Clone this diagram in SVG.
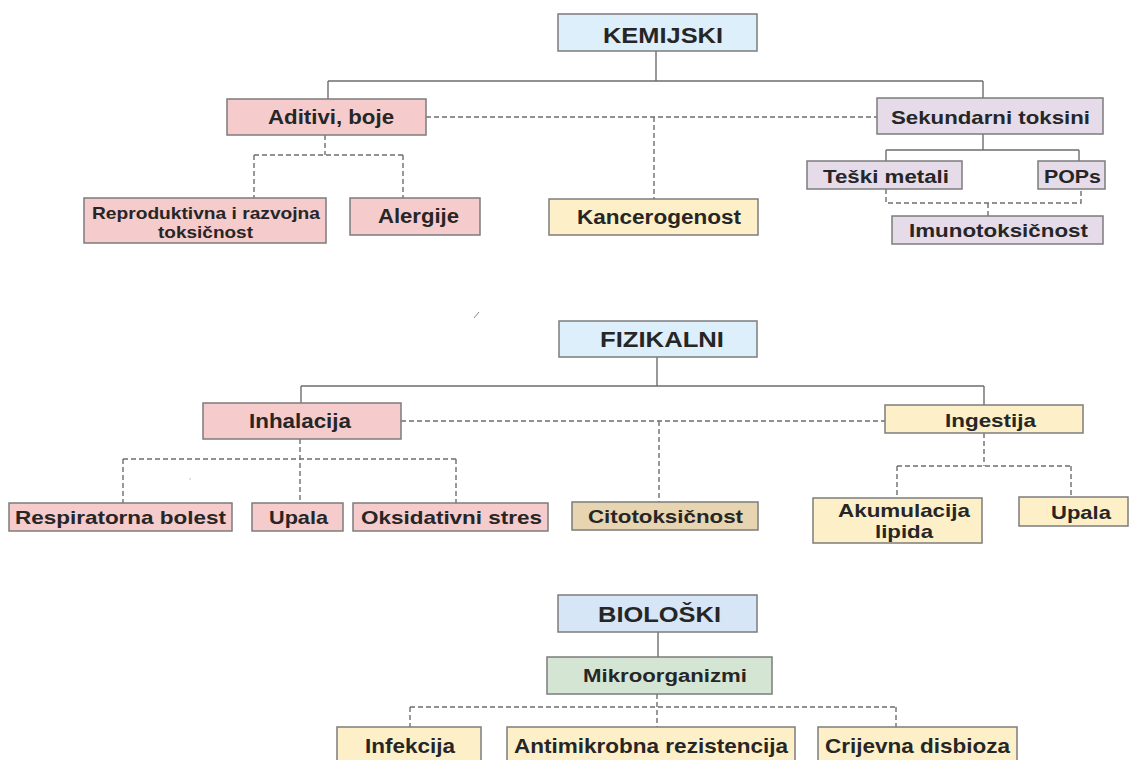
<svg xmlns="http://www.w3.org/2000/svg" width="1132" height="760" viewBox="0 0 1132 760">
<style>
.box{stroke:#7c7c7c;stroke-width:1.5}
.blue{fill:#deeffc}.blue2{fill:#d6e6f6}.pink{fill:#f5cbcc}.lav{fill:#e5dbe9}.yel{fill:#fdf0c9}.tan{fill:#e7d4b0}.grn{fill:#d4e6d3}
text{font-family:"Liberation Sans",Arial,sans-serif;font-weight:bold;fill:#262626;text-anchor:middle}
.solid{fill:none;stroke:#6e6e6e;stroke-width:1.4}
.dash{fill:none;stroke:#6e6e6e;stroke-width:1.4;stroke-dasharray:5 3}
</style>
<rect width="1132" height="760" fill="#ffffff"/>
<g id="connectors">
<path class="solid" d="M656,51 V81 M328,81 H983 M328,81 V99 M983,81 V98"/>
<path class="dash" d="M426,117 H877 M654,117 V199"/>
<path class="dash" d="M325,135 V155 M254,155 H403 M254,155 V198 M403,155 V198"/>
<path class="solid" d="M983,134 V150 M886,150 H1079 M886,150 V161 M1079,150 V161"/>
<path class="dash" d="M886,189 V203 H1081 V189 M988,203 V216"/>
<path class="solid" d="M657,357 V386 M301,386 H984 M301,386 V403 M984,386 V405"/>
<path class="dash" d="M401,421 H885 M659,421 V502"/>
<path class="dash" d="M300,439 V503 M123,459 H456 M123,459 V503 M456,459 V503"/>
<path class="dash" d="M984,433 V466 M897,466 H1071 M897,466 V498 M1071,466 V497"/>
<path class="solid" d="M658,632 V657"/>
<path class="dash" d="M657,694 V727 M410,707 H896 M410,707 V727 M896,707 V727"/>
</g>
<g id="marks">
<line x1="474" y1="318" x2="479" y2="312" stroke="#888" stroke-width="1"/>
<circle cx="190" cy="479" r="0.8" fill="#bbb"/>
</g>
<g id="kemijski"><rect class="box blue" x="558" y="14" width="199" height="37"/><text x="663" y="43" font-size="22" textLength="120" lengthAdjust="spacingAndGlyphs">KEMIJSKI</text></g>
<g id="aditivi"><rect class="box pink" x="227" y="99" width="199" height="36"/><text x="331" y="124" font-size="20" textLength="126" lengthAdjust="spacingAndGlyphs">Aditivi, boje</text></g>
<g id="sekundarni"><rect class="box lav" x="877" y="98" width="226" height="36"/><text x="990.5" y="124" font-size="18.5" textLength="199" lengthAdjust="spacingAndGlyphs">Sekundarni toksini</text></g>
<g id="reproduktivna"><rect class="box pink" x="84" y="198" width="242" height="45"/><text x="206" y="219" font-size="17" textLength="228" lengthAdjust="spacingAndGlyphs">Reproduktivna i razvojna</text><text x="205.5" y="238" font-size="17" textLength="95" lengthAdjust="spacingAndGlyphs">toksičnost</text></g>
<g id="alergije"><rect class="box pink" x="350" y="198" width="130" height="37"/><text x="418.5" y="223" font-size="20" textLength="81" lengthAdjust="spacingAndGlyphs">Alergije</text></g>
<g id="kancerogenost"><rect class="box yel" x="549" y="199" width="209" height="36"/><text x="659" y="224" font-size="19.5" textLength="164" lengthAdjust="spacingAndGlyphs">Kancerogenost</text></g>
<g id="teski"><rect class="box lav" x="807" y="161" width="155" height="28"/><text x="886" y="183" font-size="18" textLength="126" lengthAdjust="spacingAndGlyphs">Teški metali</text></g>
<g id="pops"><rect class="box lav" x="1038" y="161" width="67" height="28"/><text x="1072.5" y="183" font-size="18" textLength="57" lengthAdjust="spacingAndGlyphs">POPs</text></g>
<g id="imunotoksicnost"><rect class="box lav" x="892" y="216" width="211" height="28"/><text x="998.5" y="237" font-size="18.5" textLength="179" lengthAdjust="spacingAndGlyphs">Imunotoksičnost</text></g>
<g id="fizikalni"><rect class="box blue" x="559" y="321" width="198" height="36"/><text x="662" y="347" font-size="22" textLength="124" lengthAdjust="spacingAndGlyphs">FIZIKALNI</text></g>
<g id="inhalacija"><rect class="box pink" x="203" y="403" width="198" height="36"/><text x="300" y="428" font-size="20" textLength="102" lengthAdjust="spacingAndGlyphs">Inhalacija</text></g>
<g id="ingestija"><rect class="box yel" x="885" y="405" width="198" height="28"/><text x="990.5" y="426.5" font-size="18.5" textLength="91" lengthAdjust="spacingAndGlyphs">Ingestija</text></g>
<g id="respiratorna"><rect class="box pink" x="9" y="503" width="223" height="28"/><text x="120.5" y="523.5" font-size="18.5" textLength="211" lengthAdjust="spacingAndGlyphs">Respiratorna bolest</text></g>
<g id="upala1"><rect class="box pink" x="252" y="503" width="91" height="28"/><text x="298.5" y="523.5" font-size="18.5" textLength="59" lengthAdjust="spacingAndGlyphs">Upala</text></g>
<g id="oksidativni"><rect class="box pink" x="353" y="503" width="195" height="28"/><text x="451.5" y="523.5" font-size="18.5" textLength="181" lengthAdjust="spacingAndGlyphs">Oksidativni stres</text></g>
<g id="citotoksicnost"><rect class="box tan" x="572" y="502" width="186" height="28"/><text x="665.5" y="523" font-size="19" textLength="155" lengthAdjust="spacingAndGlyphs">Citotoksičnost</text></g>
<g id="akumulacija"><rect class="box yel" x="813" y="498" width="169" height="45"/><text x="904" y="517" font-size="19" textLength="132" lengthAdjust="spacingAndGlyphs">Akumulacija</text><text x="904" y="537.5" font-size="19" textLength="58" lengthAdjust="spacingAndGlyphs">lipida</text></g>
<g id="upala2"><rect class="box yel" x="1019" y="497" width="109" height="29"/><text x="1081" y="518.5" font-size="19" textLength="60" lengthAdjust="spacingAndGlyphs">Upala</text></g>
<g id="bioloski"><rect class="box blue2" x="558" y="595" width="199" height="37"/><text x="659.5" y="622" font-size="22" textLength="123" lengthAdjust="spacingAndGlyphs">BIOLOŠKI</text></g>
<g id="mikroorganizmi"><rect class="box grn" x="547" y="657" width="225" height="37"/><text x="665" y="682" font-size="17.5" textLength="164" lengthAdjust="spacingAndGlyphs">Mikroorganizmi</text></g>
<g id="infekcija"><rect class="box yel" x="337" y="727" width="144" height="40"/><text x="410" y="753" font-size="21" textLength="90" lengthAdjust="spacingAndGlyphs">Infekcija</text></g>
<g id="antimikrobna"><rect class="box yel" x="507" y="727" width="288" height="40"/><text x="651" y="753" font-size="21" textLength="274" lengthAdjust="spacingAndGlyphs">Antimikrobna rezistencija</text></g>
<g id="crijevna"><rect class="box yel" x="818" y="727" width="199" height="40"/><text x="917.5" y="753" font-size="21" textLength="185" lengthAdjust="spacingAndGlyphs">Crijevna disbioza</text></g>
</svg>
